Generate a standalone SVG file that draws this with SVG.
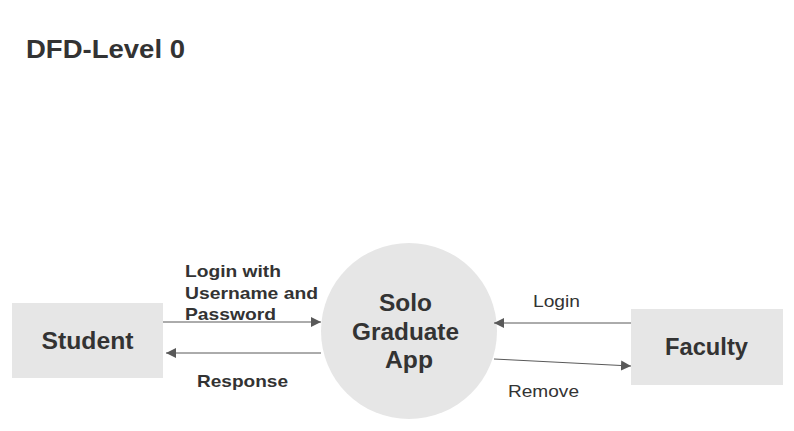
<svg xmlns="http://www.w3.org/2000/svg" width="794" height="431" viewBox="0 0 794 431">
<defs>
<style>
text { font-family: "Liberation Sans", Arial, sans-serif; fill: #333333; }
.title { font-size: 25px; font-weight: bold; }
.node { fill: #e6e6e6; stroke: none; }
.nlabel { font-size: 23px; font-weight: bold; }
.elabel { font-size: 17px; font-weight: bold; }
.elabel2 { font-size: 17px; }
.edge { stroke: #595959; stroke-width: 1; fill: none; marker-end: url(#arr); }
</style>
<marker id="arr" viewBox="0 0 10 10" refX="10" refY="5" markerWidth="10" markerHeight="10" markerUnits="userSpaceOnUse" orient="auto">
<path d="M0,0 L10,5 L0,10 z" fill="#595959"/>
</marker>
</defs>
<rect width="794" height="431" fill="#ffffff"/>
<text class="title" x="26" y="58" textLength="159" lengthAdjust="spacingAndGlyphs">DFD-Level 0</text>
<g id="student">
<rect class="node" x="12" y="303" width="151" height="75"/>
<text class="nlabel" x="41.5" y="349" textLength="92" lengthAdjust="spacingAndGlyphs">Student</text>
</g>
<g id="app">
<circle class="node" cx="409" cy="331" r="88"/>
<text class="nlabel" x="379" y="311" textLength="53" lengthAdjust="spacingAndGlyphs">Solo</text>
<text class="nlabel" x="352" y="340" textLength="107" lengthAdjust="spacingAndGlyphs">Graduate</text>
<text class="nlabel" x="385" y="368" textLength="48" lengthAdjust="spacingAndGlyphs">App</text>
</g>
<g id="faculty">
<rect class="node" x="631" y="309" width="152" height="76"/>
<text class="nlabel" x="665" y="355" textLength="83" lengthAdjust="spacingAndGlyphs">Faculty</text>
</g>
<g id="connectors">
<line class="edge" x1="163" y1="322" x2="321" y2="322"/>
<line class="edge" x1="321" y1="353" x2="166" y2="353"/>
<line class="edge" x1="631" y1="323" x2="494" y2="323"/>
<line class="edge" x1="494" y1="359" x2="631" y2="366"/>
<text class="elabel" x="185" y="277" textLength="96" lengthAdjust="spacingAndGlyphs">Login with</text>
<text class="elabel" x="185" y="299" textLength="133" lengthAdjust="spacingAndGlyphs">Username and</text>
<text class="elabel" x="185" y="320" textLength="91" lengthAdjust="spacingAndGlyphs">Password</text>
<text class="elabel" x="197" y="387" textLength="91" lengthAdjust="spacingAndGlyphs">Response</text>
<text class="elabel2" x="533" y="307" textLength="47" lengthAdjust="spacingAndGlyphs">Login</text>
<text class="elabel2" x="508" y="397" textLength="71" lengthAdjust="spacingAndGlyphs">Remove</text>
</g>
</svg>
